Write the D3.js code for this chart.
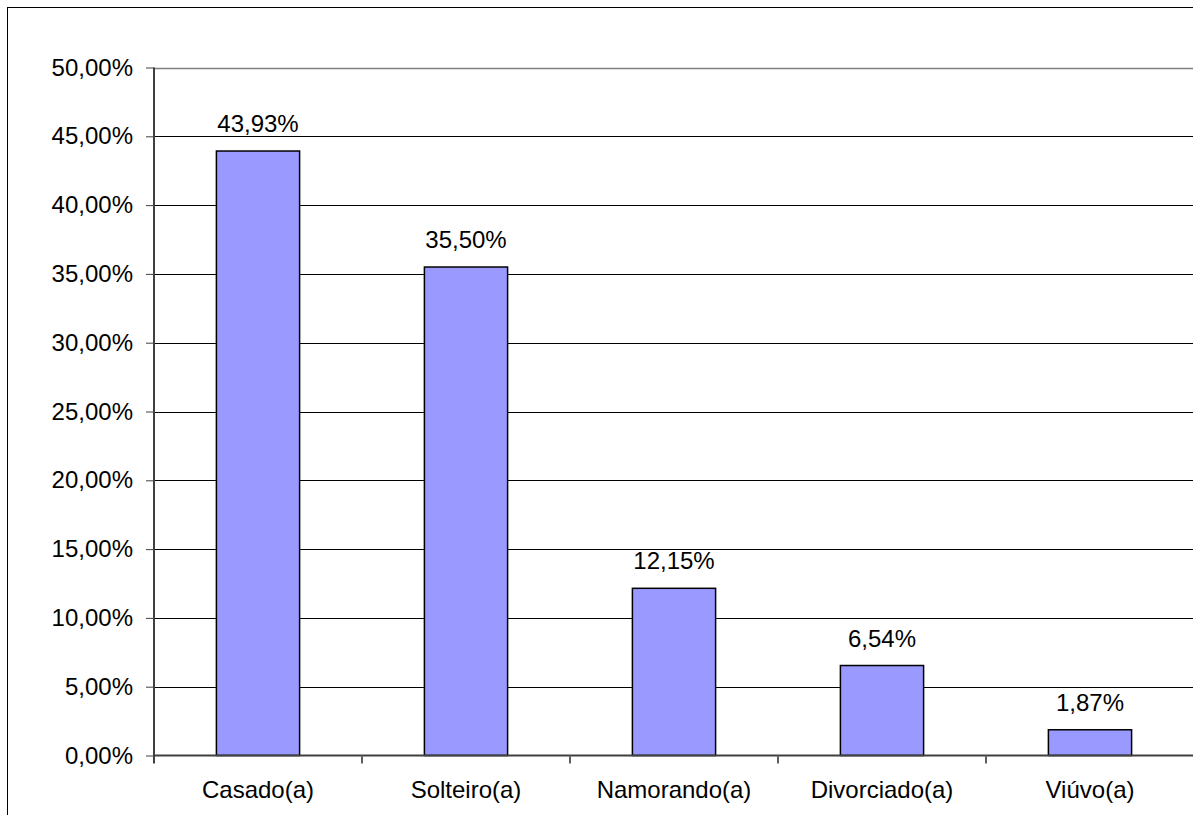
<!DOCTYPE html>
<html>
<head>
<meta charset="utf-8">
<script src="https://cdn.jsdelivr.net/npm/d3@7"></script>
<style>
  html, body { margin: 0; padding: 0; background: #fff; overflow: hidden; }
  svg { display: block; }
  text { font-family: "Liberation Sans", Arial, sans-serif; fill: #000; }
</style>
</head>
<body>
<svg id="chart" width="1193" height="815"></svg>
<script>
// Estado civil dos respondentes (%)
const categories = ["Casado(a)", "Solteiro(a)", "Namorando(a)", "Divorciado(a)", "Viúvo(a)"];
const values = [43.93, 35.50, 12.15, 6.54, 1.87];
const yTicks = [0, 5, 10, 15, 20, 25, 30, 35, 40, 45, 50];

const fmt = v => v.toFixed(2).replace(".", ",") + "%";

const svg = d3.select("#chart");
const W = 1193, H = 815;

// outer frame of the chart area
svg.append("rect")
  .attr("x", 7.5).attr("y", 7.5)
  .attr("width", W + 20).attr("height", H + 20)
  .attr("fill", "#fff").attr("stroke", "#000").attr("stroke-width", 1);

const plot = { left: 154, right: 1194, top: 67.5, bottom: 755.5 };

const x = d3.scaleBand()
  .domain(categories)
  .range([plot.left, plot.right])
  .paddingInner(0.6)
  .paddingOuter(0.3);

const xCat = d3.scaleBand().domain(categories).range([plot.left, plot.right]);

const y = d3.scaleLinear().domain([0, 50]).range([plot.bottom, plot.top]);

// horizontal gridlines
svg.append("g")
  .selectAll("line")
  .data(yTicks.filter(t => t > 0))
  .join("line")
  .attr("x1", plot.left).attr("x2", plot.right)
  .attr("y1", d => Math.round(y(d)) + 0.5).attr("y2", d => Math.round(y(d)) + 0.5)
  .attr("stroke", d => d === 50 ? "#808080" : "#000")
  .attr("stroke-width", d => d === 50 ? 1.5 : 1);

// bars
svg.append("g")
  .selectAll("rect")
  .data(values)
  .join("rect")
  .attr("x", (d, i) => x(categories[i]))
  .attr("width", x.bandwidth())
  .attr("y", d => y(d))
  .attr("height", d => y(0) - y(d))
  .attr("fill", "#9999FF")
  .attr("stroke", "#000")
  .attr("stroke-width", 1.5);

// value labels
svg.append("g")
  .selectAll("text")
  .data(values)
  .join("text")
  .attr("x", (d, i) => x(categories[i]) + x.bandwidth() / 2)
  .attr("y", d => y(d) - 19)
  .attr("text-anchor", "middle")
  .attr("font-size", 24)
  .text(d => fmt(d));

// y axis
const yAxis = d3.axisLeft(y)
  .tickValues(yTicks)
  .tickFormat(fmt)
  .tickSize(8)
  .tickPadding(13);
const gy = svg.append("g")
  .attr("transform", `translate(${plot.left},0)`)
  .call(yAxis);
gy.select(".domain").attr("stroke", "#404040").attr("stroke-width", 2)
  .attr("d", `M0,${plot.top}V${plot.bottom + 8}`);
gy.selectAll(".tick line").attr("stroke", "#404040").attr("stroke-width", 1);
gy.selectAll(".tick text")
  .attr("font-size", 24)
  .attr("font-family", "Liberation Sans, Arial, sans-serif")
  .attr("fill", "#000");

// x axis
const gx = svg.append("g").attr("transform", `translate(0,${plot.bottom})`);
gx.append("line")
  .attr("x1", plot.left).attr("x2", plot.right)
  .attr("stroke", "#404040").attr("stroke-width", 2);
gx.selectAll("line.tk")
  .data(categories.slice(1))
  .join("line")
  .attr("class", "tk")
  .attr("x1", d => xCat(d)).attr("x2", d => xCat(d))
  .attr("y1", 0).attr("y2", 8)
  .attr("stroke", "#606060").attr("stroke-width", 2);
gx.selectAll("text")
  .data(categories)
  .join("text")
  .attr("x", d => xCat(d) + xCat.bandwidth() / 2)
  .attr("y", 42)
  .attr("text-anchor", "middle")
  .attr("font-size", 24)
  .text(d => d);
</script>
</body>
</html>
